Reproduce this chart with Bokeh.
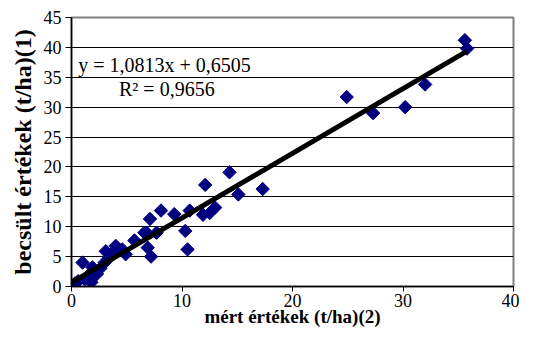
import numpy as np
from bokeh.plotting import figure
from bokeh.models import Range1d, FixedTicker, Label
from bokeh.embed import file_html
from bokeh.resources import INLINE

# measured values (t/ha)
measured = [0.0, 0.3, 0.6, 1.0, 1.2, 1.5, 1.8, 1.9, 2.0, 2.3, 2.6, 3.0, 3.1, 3.4, 3.6,
            4.0, 4.1, 4.6, 4.9, 5.7, 6.6, 6.8, 6.9, 7.1, 7.2, 7.7, 8.1, 9.3, 10.3, 10.5,
            10.7, 11.9, 12.1, 12.5, 13.0, 14.3, 15.1, 17.3, 24.9, 27.3, 30.2, 32.0, 35.6, 35.8]
# estimated values (t/ha)
estimated = [0.1, 0.5, 0.9, 4.0, 1.2, 1.8, 0.7, 3.2, 2.4, 2.1, 3.0, 4.0, 5.9, 4.8, 5.2,
             6.8, 6.4, 6.2, 5.4, 7.7, 9.0, 9.0, 6.5, 11.3, 5.0, 9.0, 12.7, 12.1, 9.3, 6.2,
             12.7, 12.0, 17.0, 12.3, 13.2, 19.1, 15.4, 16.3, 31.7, 29.0, 30.0, 33.8, 41.2, 39.8]

slope = 1.0813
intercept = 0.6505
eq_text = "y = 1,0813x + 0,6505"
r2_text = "R\u00b2 = 0,9656"
x_ticks = [0, 10, 20, 30, 40]
y_ticks = [0, 5, 10, 15, 20, 25, 30, 35, 40, 45]

p = figure(width=519, height=329, x_range=Range1d(0, 40), y_range=Range1d(0, 45),
           output_backend="svg", toolbar_location=None,
           min_border_left=71, min_border_right=6, min_border_top=17, min_border_bottom=40)

p.background_fill_color = "white"
p.border_fill_color = "white"
p.outline_line_color = "#808080"
p.outline_line_width = 2

p.xgrid.grid_line_color = None
p.ygrid.grid_line_color = "black"
p.ygrid.grid_line_width = 1

p.xaxis.ticker = FixedTicker(ticks=x_ticks)
p.yaxis.ticker = FixedTicker(ticks=y_ticks)
for ax in (p.xaxis, p.yaxis):
    ax.axis_line_color = "black"
    ax.axis_line_width = 1.5
    ax.major_tick_line_color = "black"
    ax.major_tick_in = 0
    ax.minor_tick_line_color = None
    ax.major_label_text_font = "Liberation Serif"
    ax.major_label_text_font_size = "18px"
    ax.major_label_text_color = "black"
    ax.axis_label_text_font = "Liberation Serif"
    ax.axis_label_text_font_style = "bold"
    ax.axis_label_text_color = "black"

p.xaxis.major_tick_out = 5
p.yaxis.major_tick_out = 6
p.xaxis.major_label_standoff = 2
p.yaxis.major_label_standoff = 4
p.xaxis.axis_label = "mért értékek (t/ha)(2)"
p.yaxis.axis_label = "becsült értékek (t/ha)(1)"
p.xaxis.axis_label_text_font_size = "19px"
p.yaxis.axis_label_text_font_size = "24px"
p.xaxis.axis_label_standoff = -4
p.yaxis.axis_label_standoff = 5

p.scatter(measured, estimated, marker="square", angle=np.pi / 4, size=9.5,
          fill_color="#000080", line_color="#000080")

x_line = [0, max(measured)]
y_line = [slope * xv + intercept for xv in x_line]
p.line(x_line, y_line, line_color="black", line_width=5)

p.add_layout(Label(x=0.6, y=37.0, text=eq_text, text_font="Liberation Serif",
                   text_font_size="20px", text_color="black", text_baseline="alphabetic"))
p.add_layout(Label(x=4.3, y=33.1, text=r2_text, text_font="Liberation Serif",
                   text_font_size="20px", text_color="black", text_baseline="alphabetic"))

open("out.html", "w").write(file_html(p, INLINE))
